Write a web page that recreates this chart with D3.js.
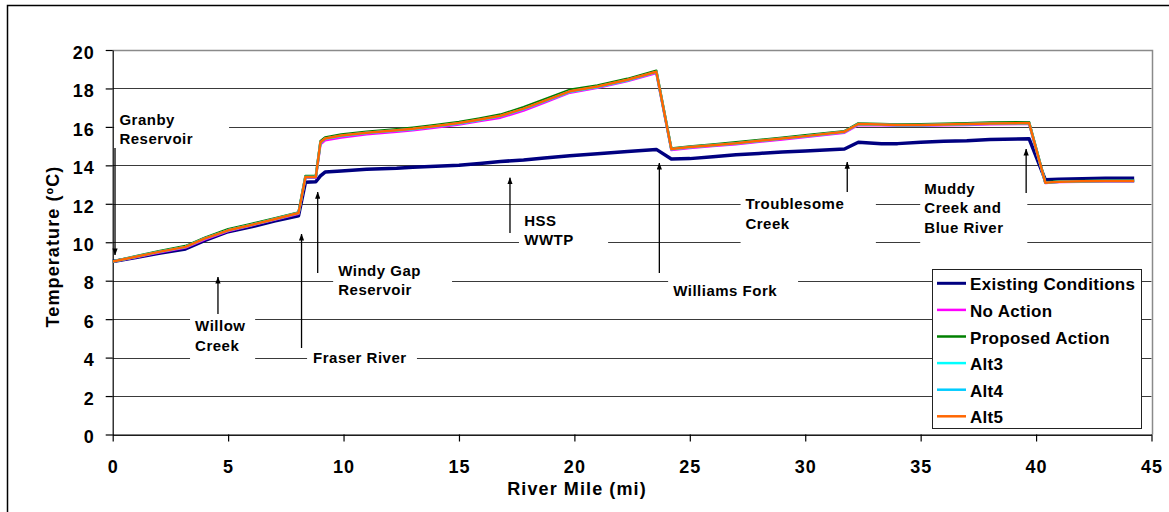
<!DOCTYPE html>
<html><head><meta charset="utf-8">
<script src="https://cdn.jsdelivr.net/npm/d3@7"></script>
<style>
body{margin:0;background:#fff}
svg{display:block}
text{font-family:"Liberation Sans",Arial,Helvetica,sans-serif;font-weight:bold;fill:#000}
</style>
</head><body>
<svg id="chart" width="1169" height="512"></svg>
<script>
// ---- data ----
const miles = [0, 1, 2, 3.15, 4, 5, 6, 7, 8.05, 8.35, 8.8, 9.0, 9.2, 9.9, 11, 12.3, 13, 14, 15, 15.9, 16.8, 17.8, 18.7, 19.8, 21, 22.3, 23.55, 24.2, 25, 26, 27, 28, 29, 30, 31.7, 32.3, 33.3, 34, 35, 36, 37, 38, 39.7, 40.4, 41, 42, 43, 44.25];
const existingConditions = [9.0, 9.2, 9.42, 9.65, 10.1, 10.55, 10.8, 11.1, 11.38, 13.12, 13.15, 13.45, 13.65, 13.7, 13.8, 13.85, 13.9, 13.95, 14.0, 14.1, 14.2, 14.28, 14.38, 14.5, 14.6, 14.72, 14.83, 14.33, 14.35, 14.45, 14.55, 14.62, 14.7, 14.75, 14.85, 15.2, 15.12, 15.13, 15.2, 15.25, 15.28, 15.35, 15.38, 13.25, 13.28, 13.3, 13.33, 13.33];
const noAction = [9.0, 9.22, 9.47, 9.72, 10.15, 10.58, 10.87, 11.17, 11.48, 13.35, 13.35, 15.1, 15.3, 15.45, 15.62, 15.75, 15.82, 15.97, 16.12, 16.3, 16.48, 16.85, 17.27, 17.78, 18.03, 18.38, 18.8, 14.8, 14.9, 15.0, 15.1, 15.23, 15.35, 15.47, 15.7, 16.1, 16.08, 16.06, 16.06, 16.08, 16.1, 16.14, 16.16, 13.08, 13.13, 13.15, 13.16, 13.16];
const proposedAction = [9.0, 9.27, 9.53, 9.8, 10.24, 10.68, 10.95, 11.24, 11.55, 13.45, 13.45, 15.25, 15.45, 15.6, 15.75, 15.88, 15.96, 16.1, 16.25, 16.44, 16.64, 17.02, 17.43, 17.93, 18.16, 18.5, 18.92, 14.88, 14.98, 15.09, 15.2, 15.32, 15.44, 15.56, 15.78, 16.18, 16.15, 16.13, 16.14, 16.16, 16.19, 16.23, 16.24, 13.12, 13.17, 13.19, 13.2, 13.2];
const alt3 = [9.0, 9.25, 9.5, 9.76, 10.2, 10.62, 10.9, 11.2, 11.52, 13.4, 13.4, 15.18, 15.38, 15.53, 15.68, 15.81, 15.88, 16.03, 16.18, 16.36, 16.56, 16.93, 17.33, 17.83, 18.08, 18.43, 18.85, 14.84, 14.94, 15.04, 15.14, 15.27, 15.39, 15.51, 15.74, 16.14, 16.11, 16.09, 16.09, 16.11, 16.14, 16.17, 16.19, 13.1, 13.15, 13.17, 13.18, 13.18];
const alt4 = [9.0, 9.25, 9.5, 9.76, 10.2, 10.62, 10.9, 11.2, 11.52, 13.4, 13.4, 15.19, 15.39, 15.54, 15.69, 15.82, 15.89, 16.04, 16.19, 16.37, 16.57, 16.94, 17.34, 17.84, 18.09, 18.44, 18.86, 14.85, 14.95, 15.05, 15.15, 15.28, 15.4, 15.52, 15.75, 16.15, 16.12, 16.1, 16.1, 16.12, 16.15, 16.18, 16.2, 13.1, 13.15, 13.17, 13.18, 13.18];
const alt5 = [9.0, 9.25, 9.5, 9.76, 10.2, 10.62, 10.9, 11.2, 11.52, 13.4, 13.4, 15.2, 15.4, 15.55, 15.7, 15.83, 15.9, 16.05, 16.2, 16.38, 16.58, 16.95, 17.35, 17.85, 18.1, 18.45, 18.87, 14.85, 14.95, 15.05, 15.15, 15.28, 15.4, 15.52, 15.75, 16.15, 16.12, 16.1, 16.1, 16.12, 16.15, 16.18, 16.2, 13.1, 13.15, 13.17, 13.18, 13.18];
const seriesNames = ["Existing Conditions", "No Action", "Proposed Action", "Alt3", "Alt4", "Alt5"];
const seriesValues = [existingConditions, noAction, proposedAction, alt3, alt4, alt5];
const xTicks = [0, 5, 10, 15, 20, 25, 30, 35, 40, 45];
const yTicks = [0, 2, 4, 6, 8, 10, 12, 14, 16, 18, 20];
const xTitle = "River Mile (mi)";
const yTitle = "Temperature (ºC)";
// annotation text (positions in data units: mile / °C)
const annotationLabels = [
  ["Granby", "Reservoir"], ["Willow", "Creek"], ["Fraser River"], ["Windy Gap", "Reservoir"],
  ["HSS", "WWTP"], ["Williams Fork"], ["Troublesome", "Creek"], ["Muddy", "Creek and", "Blue River"]
];

// ---- styles & layout ----
const colors = ["#000080", "#FF00FF", "#008000", "#00FFFF", "#00CCFF", "#FF6600"];
const widths = [3.5, 2.5, 2.5, 2.5, 2.5, 2.5];
const annLayout = [
  {tx:0.29, ty:[16.10,15.11], ax:0.10, a1:14.90, a2:9.34, box:[0.06,5.04,17.40,14.90]},
  {tx:3.57, ty:[5.37,4.36], ax:4.56, a1:6.27, a2:8.19, box:[3.35,6.17,6.22,3.77]},
  {tx:8.68, ty:[3.73], ax:8.18, a1:4.50, a2:10.43, box:[8.42,13.18,4.50,3.46]},
  {tx:9.77, ty:[8.24,7.24], ax:8.88, a1:8.40, a2:12.61, box:[9.55,14.70,8.40,7.00]},
  {tx:17.83, ty:[10.85,9.86], ax:17.21, a1:10.48, a2:13.36, box:[17.60,21.46,11.68,9.60]},
  {tx:24.28, ty:[7.20], ax:23.68, a1:8.40, a2:14.12, box:[24.06,29.69,8.35,7.00]},
  {tx:27.41, ty:[11.73,10.69], ax:31.82, a1:12.61, a2:14.17, box:[27.20,33.06,12.56,9.65]},
  {tx:35.16, ty:[12.49,11.51,10.47], ax:39.57, a1:12.56, a2:14.85, box:[34.98,39.62,13.65,9.65]}
];

const svg = d3.select("#chart");
const x = d3.scaleLinear().domain([0, 45]).range([112.7, 1151.5]);
const y = d3.scaleLinear().domain([0, 20]).range([434.5, 50]);

// outer frame (only left & top are inside the picture)
svg.append("rect").attr("x", 7.5).attr("y", 5.5).attr("width", 1175).attr("height", 520)
  .attr("fill", "#fff").attr("stroke", "#000").attr("stroke-width", 1.5);

// gridlines
svg.append("g").selectAll("line").data(yTicks).join("line")
  .attr("x1", x(0)).attr("x2", x(45))
  .attr("y1", d => Math.round(y(d)) + 0.5).attr("y2", d => Math.round(y(d)) + 0.5)
  .attr("stroke", "#3a3a3a").attr("stroke-width", 1);

// plot border top/right (grey)
svg.append("path")
  .attr("d", `M${x(0)},${Math.round(y(20))+0.5}H${Math.round(x(45))+0.5}V${y(0)}`)
  .attr("fill", "none").attr("stroke", "#8a8a8a").attr("stroke-width", 1.5);

// annotation white boxes
svg.append("g").selectAll("rect").data(annLayout).join("rect")
  .attr("x", d => x(d.box[0])).attr("width", d => x(d.box[1]) - x(d.box[0]))
  .attr("y", d => y(d.box[2])).attr("height", d => y(d.box[3]) - y(d.box[2]))
  .attr("fill", "#fff");

// axes
const yAxis = d3.axisLeft(y).tickValues(yTicks).tickSize(7).tickSizeOuter(0).tickPadding(11);
const gy = svg.append("g").attr("transform", `translate(${x(0)},0)`).call(yAxis);
gy.selectAll("text").style("font-size", "18px").style("letter-spacing", "1px").attr("dy", "0.46em");
gy.selectAll("line,path").attr("stroke", "#000").attr("stroke-width", 1.2);

const xAxis = d3.axisBottom(x).tickValues(xTicks).tickSize(7).tickSizeOuter(0).tickPadding(19);
const gx = svg.append("g").attr("transform", `translate(0,${y(0)})`).call(xAxis);
gx.selectAll("text").style("font-size", "18px").style("letter-spacing", "1px");
gx.selectAll("line,path").attr("stroke", "#000").attr("stroke-width", 1.2);
svg.selectAll(".domain").attr("stroke", "#000");

// axis titles
svg.append("text").attr("x", 577).attr("y", 495).attr("text-anchor", "middle")
  .style("font-size", "18px").style("letter-spacing", "1.1px").text(xTitle);
svg.append("text").attr("transform", "translate(58.5,246.5) rotate(-90)").attr("text-anchor", "middle")
  .style("font-size", "18px").style("letter-spacing", "1.1px").text(yTitle);

// series lines
const line = d3.line().x((d, i) => x(miles[i])).y(d => y(d));
svg.append("g").selectAll("path").data(seriesValues).join("path")
  .attr("d", d => line(d)).attr("fill", "none")
  .attr("stroke", (d, i) => colors[i]).attr("stroke-width", (d, i) => widths[i])
  .attr("stroke-linejoin", "round");

// annotation arrows & text
const defs = svg.append("defs");
defs.append("marker").attr("id", "ah").attr("viewBox", "0 0 8 6").attr("refX", 7.5).attr("refY", 3)
  .attr("markerWidth", 7).attr("markerHeight", 5.5).attr("markerUnits", "userSpaceOnUse").attr("orient", "auto")
  .append("path").attr("d", "M0,0L8,3L0,6Z").attr("fill", "#000");

const ag = svg.append("g");
annLayout.forEach((a, k) => {
  ag.append("line").attr("x1", x(a.ax)).attr("x2", x(a.ax)).attr("y1", y(a.a1)).attr("y2", y(a.a2))
    .attr("stroke", "#000").attr("stroke-width", 1.3).attr("marker-end", "url(#ah)");
  annotationLabels[k].forEach((t, j) => {
    ag.append("text").attr("x", x(a.tx)).attr("y", y(a.ty[j]))
      .style("font-size", "15px").style("letter-spacing", "0.5px").text(t);
  });
});

// legend
const lg = svg.append("g");
lg.append("rect").attr("x", 932.5).attr("y", 269.5).attr("width", 209).attr("height", 159)
  .attr("fill", "#fff").attr("stroke", "#222").attr("stroke-width", 1);
seriesNames.forEach((n, i) => {
  const ry = 283.3 + i * 26.6;
  lg.append("line").attr("x1", 937).attr("x2", 966).attr("y1", ry).attr("y2", ry)
    .attr("stroke", colors[i]).attr("stroke-width", i === 0 ? 3 : 2.5);
  lg.append("text").attr("x", 970).attr("y", ry + 7)
    .style("font-size", "17px").style("letter-spacing", "0.3px").text(n);
});
</script>
</body></html>
